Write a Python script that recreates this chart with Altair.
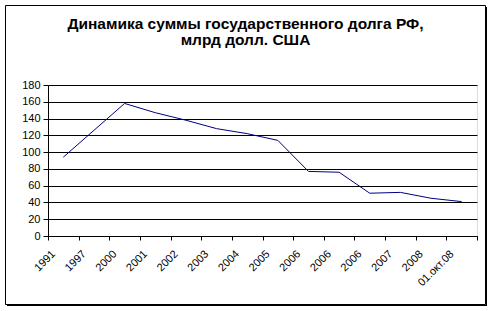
import json
import altair as alt
import pandas as pd

labels = ["1991", "1997", "2000", "2001", "2002", "2003", "2004", "2005",
          "2006", "2006", "2006", "2007", "2008", "01.окт.08"]
values = [94, 126, 158, 147, 138, 128, 122, 114, 77, 76, 51, 52, 45, 41]
y_ticks = [0, 20, 40, 60, 80, 100, 120, 140, 160, 180]

df = pd.DataFrame({"i": list(range(len(labels))), "v": values})
label_expr = json.dumps(labels, ensure_ascii=False) + "[datum.value]"

FONT = "Liberation Sans"

line = alt.Chart(df).mark_line(color="#000080", strokeWidth=1).encode(
    x=alt.X(
        "i:O",
        scale=alt.Scale(type="band", paddingInner=0, paddingOuter=0),
        axis=alt.Axis(
            title=None,
            labelExpr=label_expr,
            labelAngle=-45,
            labelAlign="right",
            labelBaseline="middle",
            labelFont=FONT,
            labelFontSize=11,
            labelColor="black",
            labelPadding=12,
            labelOffset=-10,
            tickBand="extent",
            tickColor="black",
            tickSize=4,
            domainColor="black",
            grid=False,
        ),
    ),
    y=alt.Y(
        "v:Q",
        scale=alt.Scale(domain=[0, 180], nice=False),
        axis=alt.Axis(
            title=None,
            values=y_ticks,
            labelFont=FONT,
            labelFontSize=11,
            labelColor="black",
            labelPadding=3,
            tickColor="black",
            tickSize=5,
            domainColor="black",
            grid=True,
            gridColor="black",
            gridOpacity=1,
            gridWidth=1,
        ),
    ),
)

frame_src = pd.DataFrame({"a": [0]})
border = alt.Chart(frame_src).mark_rect(
    fill=None, stroke="black", strokeWidth=1, clip=False
).encode(
    x=alt.value(-42.5), x2=alt.value(437.5), y=alt.value(-79.5), y2=alt.value(219.5)
)
shadow_r = alt.Chart(frame_src).mark_rule(color="black", strokeWidth=1, clip=False).encode(
    x=alt.value(438.5), y=alt.value(-78), y2=alt.value(221)
)
shadow_b = alt.Chart(frame_src).mark_rule(color="black", strokeWidth=1, clip=False).encode(
    x=alt.value(-41), x2=alt.value(439), y=alt.value(220.5)
)

chart = alt.layer(border, shadow_r, shadow_b, line).properties(
    width=429,
    height=151,
    autosize=alt.AutoSizeParams(type="none"),
    padding={"left": 48, "top": 85, "right": 16, "bottom": 75},
    title=alt.TitleParams(
        text=["Динамика суммы государственного долга РФ,", "млрд долл. США"],
        font=FONT,
        fontSize=15.5,
        fontWeight="bold",
        color="black",
        anchor="middle",
        dx=-17,
        offset=-43,
        lineHeight=16,
    ),
).configure_view(fill="#c0c0c0", stroke=None).configure(background="white")

chart.save("out.html", embed_options={"renderer": "svg", "actions": False})
